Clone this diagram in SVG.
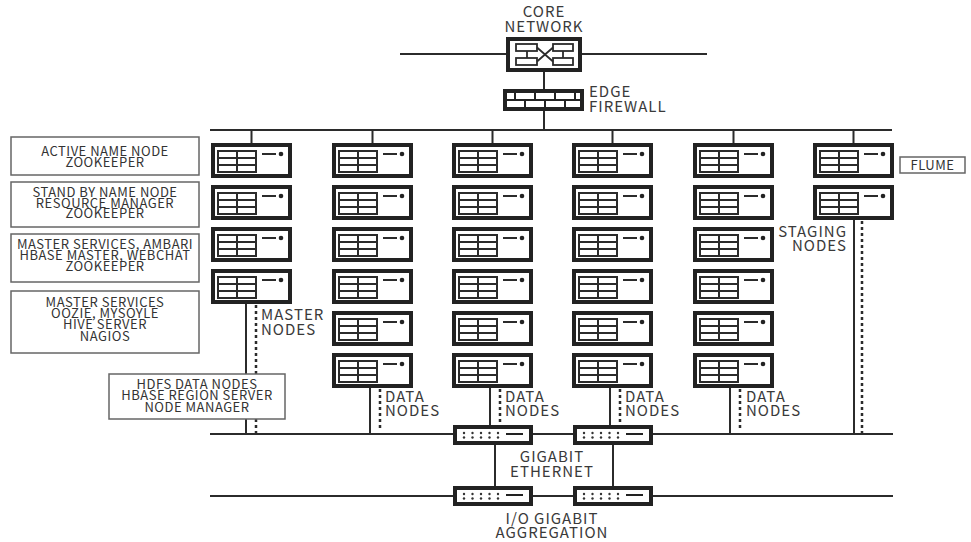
<svg xmlns="http://www.w3.org/2000/svg" xmlns:xlink="http://www.w3.org/1999/xlink" width="971" height="542" viewBox="0 0 971 542">
<style>
  .bus{stroke:#2b2b2b;stroke-width:2;fill:none}
  .dot{stroke:#2b2b2b;stroke-width:2.5;fill:none;stroke-dasharray:3 3}
  .big{font-family:"Noto Sans CJK SC","Noto Sans",sans-serif;font-size:15px;letter-spacing:1px;fill:#3a3a3a}
  .sm{font-family:"Noto Sans CJK SC","Noto Sans",sans-serif;font-size:13px;letter-spacing:0.5px;fill:#333;text-anchor:middle}
  .lbl{fill:#fff;stroke:#666;stroke-width:1.5}
  .mid{text-anchor:middle}
  .end{text-anchor:end}
</style>
<defs>
  <g id="server">
    <rect x="2" y="2" width="77" height="31" fill="#fff" stroke="#222" stroke-width="4"/>
    <rect x="7" y="8" width="38" height="21" fill="none" stroke="#2b2b2b" stroke-width="2"/>
    <path d="M26 8V29M7 15H45M7 22H45M51 11H65" stroke="#2b2b2b" stroke-width="2" fill="none"/>
    <circle cx="70" cy="11" r="2.3" fill="#222"/>
  </g>
  <g id="switch">
    <rect x="2" y="2" width="76" height="16" fill="#fff" stroke="#222" stroke-width="4"/>
    <g fill="#333">
      <circle cx="11" cy="8" r="1.2"/><circle cx="19.5" cy="8" r="1.2"/><circle cx="28" cy="8" r="1.2"/><circle cx="36.5" cy="8" r="1.2"/><circle cx="45" cy="8" r="1.2"/>
      <circle cx="11" cy="12.5" r="1.2"/><circle cx="19.5" cy="12.5" r="1.2"/><circle cx="28" cy="12.5" r="1.2"/><circle cx="36.5" cy="12.5" r="1.2"/><circle cx="45" cy="12.5" r="1.2"/>
    </g>
    <path d="M53 9H70" stroke="#222" stroke-width="2"/>
  </g>
</defs>
<rect width="971" height="542" fill="#fff"/>

<g id="connectors">
  <path class="bus" d="M400 54H707"/>
  <path class="bus" d="M544 72V89M544 111V130"/>
  <path class="bus" d="M210 130H892"/>
  <path class="bus" d="M251.5 130V143M372.5 130V143M492.5 130V143M612.5 130V143M733.5 130V143M853.5 130V143"/>
  <path class="bus" d="M210 434H893"/>
  <path class="bus" d="M210 496H893"/>
  <path class="bus" d="M246 304V434M370 388V434M490 388V425M610 388V425M730 388V434M854 220V434"/>
  <path class="bus" d="M495 444V486M613 444V486"/>
  <path class="dot" d="M256 305V433M380 389V431M500 389V422M620 389V422M740 389V431M862 221V433"/>
</g>

<g id="core-network">
  <rect x="508" y="39" width="72" height="31" fill="#fff" stroke="#222" stroke-width="4"/>
  <g stroke="#2b2b2b" stroke-width="1.8" fill="none">
    <rect x="516" y="44" width="21" height="7"/>
    <rect x="553" y="44" width="20" height="7"/>
    <rect x="516" y="58" width="21" height="7"/>
    <rect x="553" y="58" width="20" height="7"/>
    <path d="M527 51V58M563 51V58M537 47.5L553 61.5M537 61.5L553 47.5"/>
  </g>
  <text class="big mid" x="544" y="17">CORE</text>
  <text class="big mid" x="544" y="32">NETWORK</text>
</g>

<g id="edge-firewall">
  <rect x="505" y="91" width="77" height="18" fill="#fff" stroke="#222" stroke-width="4"/>
  <path d="M505 100H582M515 91V100M535 91V100M555 91V100M575 91V100M525 100V109M545 100V109M565 100V109" stroke="#222" stroke-width="2" fill="none"/>
  <text class="big" x="589" y="97">EDGE</text>
  <text class="big" x="589" y="112">FIREWALL</text>
</g>

<g id="master-nodes">
  <use xlink:href="#server" x="211" y="143"/>
  <use xlink:href="#server" x="211" y="185"/>
  <use xlink:href="#server" x="211" y="227"/>
  <use xlink:href="#server" x="211" y="269"/>
  <text class="big" x="261" y="320">MASTER</text>
  <text class="big" x="261" y="335">NODES</text>
</g>

<g id="data-nodes-1">
  <use xlink:href="#server" x="332" y="143"/>
  <use xlink:href="#server" x="332" y="185"/>
  <use xlink:href="#server" x="332" y="227"/>
  <use xlink:href="#server" x="332" y="269"/>
  <use xlink:href="#server" x="332" y="311"/>
  <use xlink:href="#server" x="332" y="353"/>
  <text class="big" x="385" y="402">DATA</text>
  <text class="big" x="385" y="416">NODES</text>
</g>

<g id="data-nodes-2">
  <use xlink:href="#server" x="452" y="143"/>
  <use xlink:href="#server" x="452" y="185"/>
  <use xlink:href="#server" x="452" y="227"/>
  <use xlink:href="#server" x="452" y="269"/>
  <use xlink:href="#server" x="452" y="311"/>
  <use xlink:href="#server" x="452" y="353"/>
  <text class="big" x="505" y="402">DATA</text>
  <text class="big" x="505" y="416">NODES</text>
</g>

<g id="data-nodes-3">
  <use xlink:href="#server" x="572" y="143"/>
  <use xlink:href="#server" x="572" y="185"/>
  <use xlink:href="#server" x="572" y="227"/>
  <use xlink:href="#server" x="572" y="269"/>
  <use xlink:href="#server" x="572" y="311"/>
  <use xlink:href="#server" x="572" y="353"/>
  <text class="big" x="625" y="402">DATA</text>
  <text class="big" x="625" y="416">NODES</text>
</g>

<g id="data-nodes-4">
  <use xlink:href="#server" x="693" y="143"/>
  <use xlink:href="#server" x="693" y="185"/>
  <use xlink:href="#server" x="693" y="227"/>
  <use xlink:href="#server" x="693" y="269"/>
  <use xlink:href="#server" x="693" y="311"/>
  <use xlink:href="#server" x="693" y="353"/>
  <text class="big" x="746" y="402">DATA</text>
  <text class="big" x="746" y="416">NODES</text>
</g>

<g id="staging-nodes">
  <use xlink:href="#server" x="813" y="143"/>
  <use xlink:href="#server" x="813" y="185"/>
  <text class="big end" x="847" y="237">STAGING</text>
  <text class="big end" x="847" y="251">NODES</text>
</g>

<g id="flume">
  <rect class="lbl" x="900" y="157" width="65" height="16"/>
  <text class="sm" x="932.5" y="170">FLUME</text>
</g>

<g id="gigabit-ethernet">
  <use xlink:href="#switch" x="453" y="425"/>
  <use xlink:href="#switch" x="573" y="425"/>
  <text class="big mid" x="552" y="462">GIGABIT</text>
  <text class="big mid" x="552" y="477">ETHERNET</text>
</g>

<g id="io-aggregation">
  <use xlink:href="#switch" x="453" y="486"/>
  <use xlink:href="#switch" x="573" y="486"/>
  <text class="big mid" x="552" y="524">I/O GIGABIT</text>
  <text class="big mid" x="552" y="538">AGGREGATION</text>
</g>

<g id="label-active">
  <rect class="lbl" x="11" y="137" width="188" height="38"/>
  <text class="sm" x="105" y="156">ACTIVE NAME NODE</text>
  <text class="sm" x="105" y="167">ZOOKEEPER</text>
</g>
<g id="label-standby">
  <rect class="lbl" x="11" y="182" width="188" height="45"/>
  <text class="sm" x="105" y="197">STAND BY NAME NODE</text>
  <text class="sm" x="105" y="207.5">RESOURCE MANAGER</text>
  <text class="sm" x="105" y="218">ZOOKEEPER</text>
</g>
<g id="label-master1">
  <rect class="lbl" x="11" y="234" width="188" height="48"/>
  <text class="sm" x="105" y="249">MASTER SERVICES, AMBARI</text>
  <text class="sm" x="105" y="260">HBASE MASTER, WEBCHAT</text>
  <text class="sm" x="105" y="271">ZOOKEEPER</text>
</g>
<g id="label-master2">
  <rect class="lbl" x="11" y="291" width="188" height="62"/>
  <text class="sm" x="105" y="307">MASTER SERVICES</text>
  <text class="sm" x="105" y="318">OOZIE, MYSOYLE</text>
  <text class="sm" x="105" y="329">HIVE SERVER</text>
  <text class="sm" x="105" y="341">NAGIOS</text>
</g>
<g id="label-hdfs">
  <rect class="lbl" x="109" y="374" width="176" height="45"/>
  <text class="sm" x="197" y="389">HDFS DATA NODES</text>
  <text class="sm" x="197" y="400">HBASE REGION SERVER</text>
  <text class="sm" x="197" y="412">NODE MANAGER</text>
</g>
</svg>
